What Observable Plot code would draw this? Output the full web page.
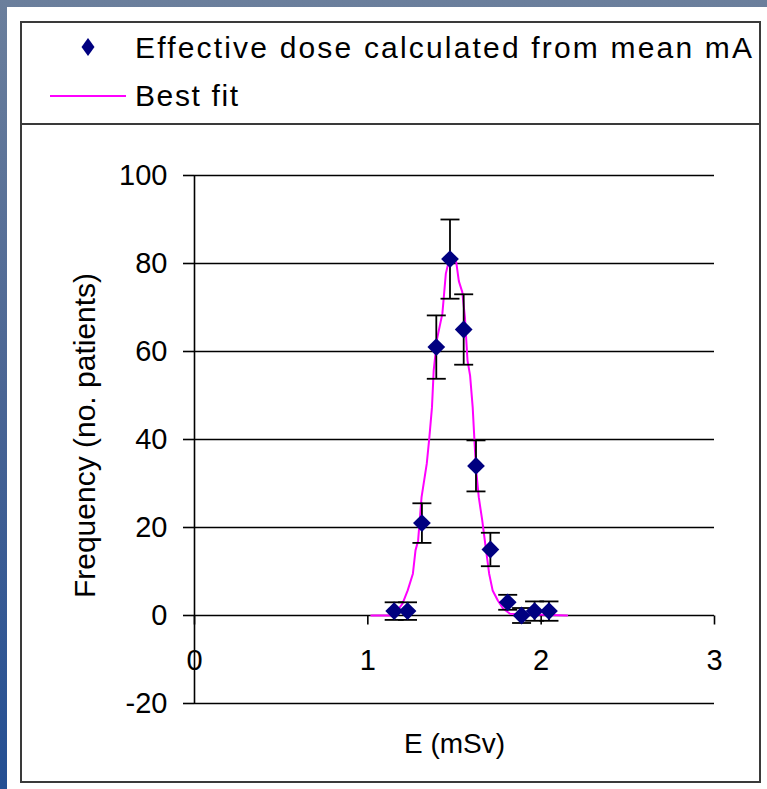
<!DOCTYPE html>
<html>
<head>
<meta charset="utf-8">
<script src="https://cdn.jsdelivr.net/npm/d3@7"></script>
<script src="https://cdn.jsdelivr.net/npm/@observablehq/plot@0.6"></script>
<style>
  html, body { margin: 0; padding: 0; }
  body {
    width: 767px; height: 789px; position: relative; overflow: hidden;
    background: linear-gradient(180deg, #6b7f9c 0%, #4a6594 50%, #244f93 100%);
    font-family: "Liberation Sans", Arial, sans-serif;
  }
  #panel { position: absolute; left: 7px; top: 7px; width: 760px; height: 782px; background: #fff; }
  #box { position: absolute; left: 20px; top: 21px; width: 741px; height: 762px; box-sizing: border-box; border: 2px solid #3a3a3a; }
  #sep { position: absolute; left: 20px; top: 123px; width: 741px; height: 2px; background: #3a3a3a; }
  #legend { position: absolute; left: 0; top: 0; }
  #chart { position: absolute; left: 23px; top: 126px; }
</style>
</head>
<body>
<div id="panel"></div>
<div id="box"></div>
<div id="sep"></div>
<svg id="legend" width="767" height="124"></svg>
<div id="chart"></div>
<script>
// ---- data ----
const seriesNames = ["Effective dose calculated from mean mA", "Best fit"];
const pointE   = [1.152, 1.229, 1.312, 1.395, 1.474, 1.553, 1.624, 1.707, 1.807, 1.887, 1.962, 2.045];
const pointF   = [1, 1, 21, 61, 81, 65, 34, 15, 3, 0, 1, 1];
const pointErr = [2, 2, 4.5, 7.2, 9, 8, 5.8, 3.8, 1.7, 1.7, 2.2, 2.2];
const fitE = [1.02, 1.15, 1.20, 1.23, 1.26, 1.275, 1.29, 1.31, 1.34, 1.355, 1.37, 1.38, 1.40, 1.43, 1.45, 1.47, 1.49, 1.51, 1.525, 1.545, 1.56, 1.575, 1.59, 1.605, 1.615, 1.625, 1.64, 1.66, 1.68, 1.70, 1.72, 1.75, 1.78, 1.82, 2.15];
const fitF = [0, 0, 2.7, 5.7, 9.5, 14.8, 17, 26.9, 34.5, 40.5, 47.3, 55.7, 63, 68.6, 77.7, 81, 81.5, 80.3, 76, 73.5, 67.8, 58, 54.5, 47.3, 39.8, 33, 26.9, 21.6, 15.5, 9.5, 5.7, 3.4, 1.6, 0.4, 0];
const xTicks = [0, 1, 2, 3];
const yTicks = [-20, 0, 20, 40, 60, 80, 100];
const gridY = [-20, 20, 40, 60, 80, 100];
const xLabel = "E (mSv)";
const yLabel = "Frequency (no. patients)";

const points = pointE.map((e, i) => ({E: e, F: pointF[i], err: pointErr[i]}));
const fit = fitE.map((e, i) => ({E: e, F: fitF[i]}));

const FONT = '"Liberation Sans", Arial, sans-serif';
const NAVY = "#000080", PINK = "#ff00ff", INK = "#000";

const hcap = {draw(ctx) { ctx.moveTo(-9.5, 0); ctx.lineTo(9.5, 0); }};
const vtick = {draw(ctx) { ctx.moveTo(0, 0); ctx.lineTo(0, 9); }};

const chart = Plot.plot({
  width: 735, height: 655,
  marginLeft: 171, marginRight: 44, marginTop: 49, marginBottom: 78,
  x: {domain: [0, 3], axis: null},
  y: {domain: [-20, 100], axis: null},
  style: {fontFamily: FONT, fontSize: "30px", color: INK, background: "transparent", overflow: "visible"},
  marks: [
    Plot.ruleY(gridY, {x1: 0, x2: 3, stroke: INK, strokeWidth: 1.6}),
    Plot.ruleY([0], {x1: 0, x2: 3, stroke: INK, strokeWidth: 1.6}),
    Plot.ruleX([0], {y1: -20, y2: 100, stroke: INK, strokeWidth: 1.6}),
    Plot.axisY(yTicks, {anchor: "left", tickSize: 11, tickPadding: 16, tickFormat: d => String(d), strokeWidth: 1.6, fontSize: 29, label: null}),
    Plot.dot(xTicks, {x: d => d, y: () => 0, symbol: vtick, r: 5, fill: "none", stroke: INK, strokeWidth: 1.6}),
    Plot.text(xTicks, {x: d => d, y: () => 0, text: d => String(d), dy: 45, fontSize: 29, fill: INK}),
    Plot.text([xLabel], {frameAnchor: "bottom", dy: 49, text: d => d, fontSize: 28, fill: INK}),
    Plot.text([yLabel], {frameAnchor: "left", textAnchor: "middle", dx: -109, dy: -4, rotate: -90, text: d => d, fontSize: 30, fill: INK}),
    Plot.line(fit, {x: "E", y: "F", stroke: PINK, strokeWidth: 2}),
    Plot.ruleX(points, {x: "E", y1: d => d.F - d.err, y2: d => d.F + d.err, stroke: INK, strokeWidth: 1.8}),
    Plot.dot(points, {x: "E", y: d => d.F + d.err, symbol: hcap, r: 5, fill: "none", stroke: INK, strokeWidth: 1.8}),
    Plot.dot(points, {x: "E", y: d => d.F - d.err, symbol: hcap, r: 5, fill: "none", stroke: INK, strokeWidth: 1.8}),
    Plot.dot(points, {x: "E", y: "F", symbol: "diamond2", r: 8, fill: NAVY, stroke: "none"})
  ]
});
document.getElementById("chart").appendChild(chart);

// ---- legend ----
const lg = d3.select("#legend");
lg.append("path").attr("d", "M88,38L94.5,47L88,56L81.5,47Z").attr("fill", NAVY);
lg.append("text").attr("x", 135).attr("y", 58).attr("font-family", FONT).attr("font-size", 30)
  .attr("textLength", 617).attr("lengthAdjust", "spacing").attr("fill", INK).text(seriesNames[0]);
lg.append("line").attr("x1", 50).attr("x2", 126).attr("y1", 96).attr("y2", 96).attr("stroke", PINK).attr("stroke-width", 2);
lg.append("text").attr("x", 135).attr("y", 106).attr("font-family", FONT).attr("font-size", 30)
  .attr("textLength", 103).attr("lengthAdjust", "spacing").attr("fill", INK).text(seriesNames[1]);
</script>
</body>
</html>
